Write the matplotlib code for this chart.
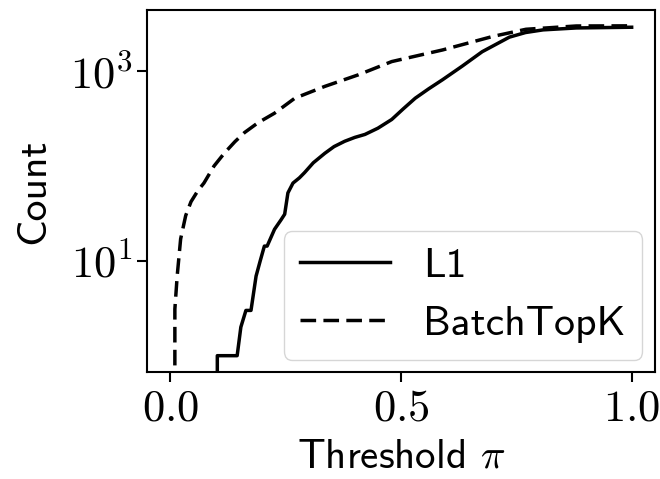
import matplotlib
matplotlib.use("Agg")
import matplotlib.pyplot as plt
from matplotlib import font_manager
import os

plt.rcParams['mathtext.fontset'] = 'cm'
cmss = os.path.join(matplotlib.get_data_path(), 'fonts', 'ttf', 'cmss10.ttf')
font_manager.fontManager.addfont(cmss)
SANS = font_manager.FontProperties(fname=cmss).get_name()

# L1 curve (threshold, count)
l1_x = [0.102, 0.102, 0.145, 0.153, 0.164, 0.175, 0.186, 0.195, 0.204, 0.210, 0.226, 0.240,
        0.248, 0.255, 0.266, 0.280, 0.291, 0.310, 0.335, 0.355, 0.378, 0.400, 0.422, 0.450,
        0.480, 0.505, 0.531, 0.560, 0.590, 0.633, 0.676, 0.735, 0.770, 0.808, 0.880, 1.000]
l1_y = [0.0, 1, 1, 2, 3, 3, 6.9, 10, 14.3, 14.3, 21.5, 27, 31, 52, 66, 75, 85, 108, 136,
        160, 182, 200, 215, 250, 309, 400, 518, 650, 810, 1130, 1600, 2280, 2550, 2720,
        2850, 2900]

# BatchTopK curve (threshold, count)
btk_x = [0.0, 0.008, 0.010, 0.015, 0.0225, 0.0335, 0.045, 0.060, 0.073, 0.095, 0.117, 0.140,
         0.161, 0.190, 0.226, 0.270, 0.335, 0.408, 0.480, 0.590, 0.699, 0.771, 0.880, 1.000]
btk_y = [0.0, 0.0, 3.1, 6.9, 17, 30, 42, 55, 66, 100, 136, 180, 225, 285, 360, 518, 690,
         915, 1260, 1670, 2320, 2760, 2990, 3000]

fig = plt.figure(figsize=(6.6, 4.79), dpi=100)
ax = fig.add_axes([0.223, 0.223, 0.769, 0.756])

ax.plot(l1_x, l1_y, color='black', lw=2.5, label='L1')
ax.plot(btk_x, btk_y, color='black', lw=2.5, linestyle=(0, (4.5, 2.1)), label='BatchTopK')

ax.set_yscale('log')
ax.set_xlim(-0.05, 1.05)
ax.set_ylim(0.67, 4400)
ax.set_xticks([0.0, 0.5, 1.0])
ax.set_xticklabels([r'$0.0$', r'$0.5$', r'$1.0$'])
ax.set_yticks([10, 1000])
ax.set_yticklabels([r'$10^{1}$', r'$10^{3}$'])
ax.yaxis.set_minor_locator(matplotlib.ticker.NullLocator())
ax.tick_params(labelsize=32, width=1.5, length=7)
for s in ax.spines.values():
    s.set_linewidth(1.5)

ax.set_xlabel(r'Threshold $\pi$', fontsize=29.5, family=SANS, labelpad=6)
ax.set_ylabel('Count', fontsize=30, family=SANS, labelpad=13)

ax.legend(loc='lower right', prop={'family': SANS, 'size': 30}, handlelength=2.15,
          handletextpad=0.8, borderpad=0.4, labelspacing=0.5, borderaxespad=0.3,
          fancybox=True)

fig.savefig('out.png', dpi=100)
